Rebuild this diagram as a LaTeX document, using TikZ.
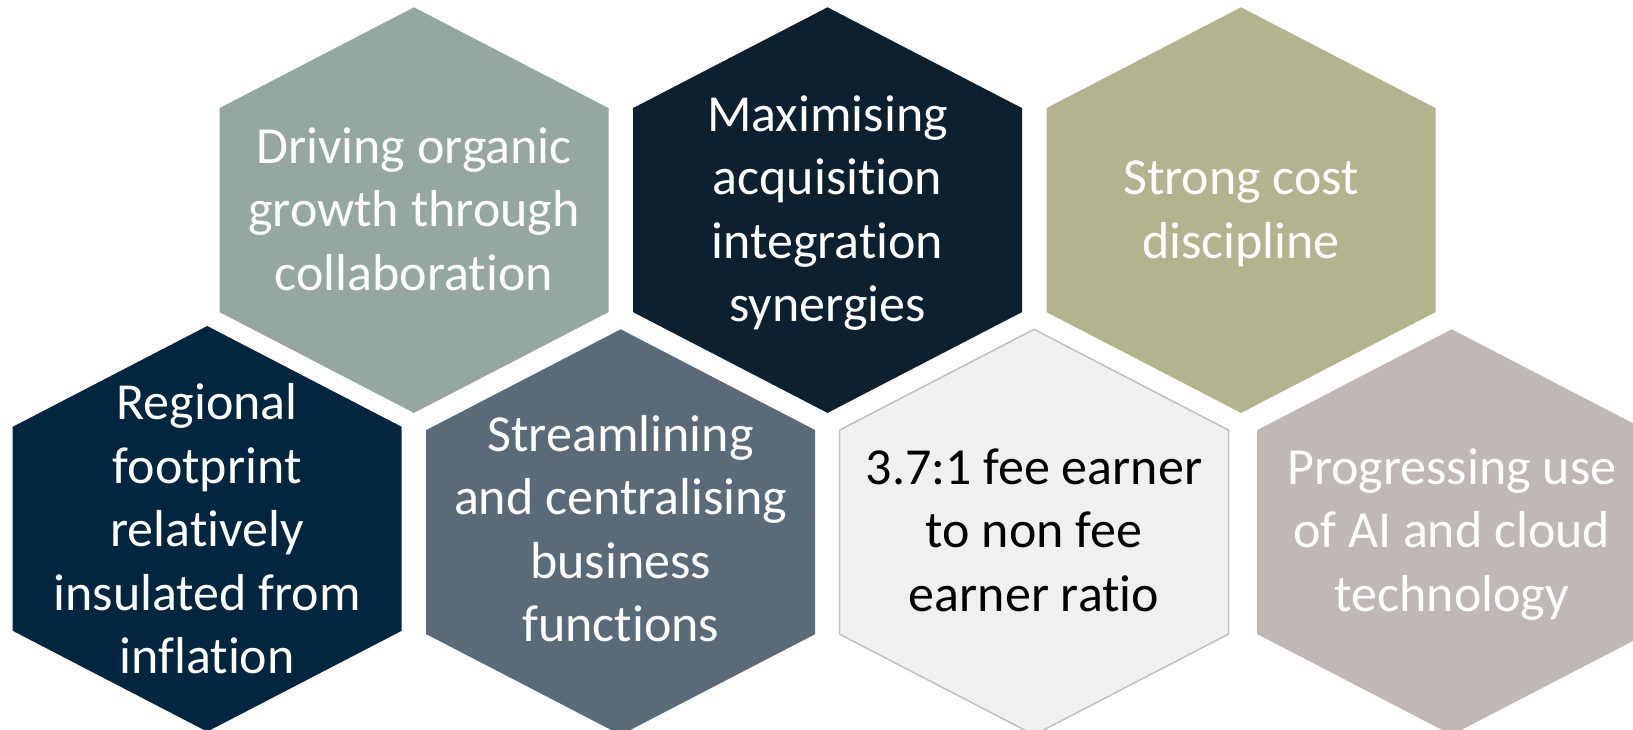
\documentclass[tikz,border=0pt]{standalone}
\usepackage{fontspec}
\setmainfont{Carlito}[Ligatures=NoCommon]

\definecolor{sage}{HTML}{95A7A0}
\definecolor{inkteal}{HTML}{0C2030}
\definecolor{olive}{HTML}{B3B48E}
\definecolor{navy}{HTML}{022640}
\definecolor{slate}{HTML}{5B6A78}
\definecolor{mist}{HTML}{F0F0F2}
\definecolor{mistline}{HTML}{C0C0C0}
\definecolor{taupe}{HTML}{C0B8B5}

% hexagon with pointed top: #1 = path options, (#2,#3) = top vertex
\newcommand\hexcell[3]{%
  \path[#1] (#2,#3) -- ++(194.5,100.8) -- ++(0,204) -- ++(-194.5,100.8)
    -- ++(-194.5,-100.8) -- ++(0,-204) -- cycle;}

\begin{document}
\begin{tikzpicture}[x=1pt,y=-1pt,
  hexlabel/.style={align=center, inner sep=0pt, text=white,
    font=\fontsize{52}{63.5}\selectfont},
]
\useasboundingbox (0,0) rectangle (1633,729);
\clip (0,0) rectangle (1633,729);

% upper row
\hexcell{fill=sage}{414}{7.3}
\hexcell{fill=inkteal}{827.5}{7.3}
\hexcell{fill=olive}{1241}{7.3}

% lower row
\hexcell{fill=navy}{207.2}{326}
\hexcell{fill=slate}{620.7}{329.3}
\hexcell{fill=mist, draw=mistline, line width=1.5pt}{1034}{329.3}
\hexcell{fill=taupe}{1451.7}{329.3}

% labels
\node[hexlabel] (organic) at (414,213.8)
  {\strut Driving organic\strut\\\strut growth through\strut\\\strut collaboration\strut};
\node[hexlabel] (acquisition) at (827.5,213.8)
  {\strut Maximising\strut\\\strut acquisition\strut\\\strut integration\strut\\\strut synergies\strut};
\node[hexlabel] (cost) at (1241,213.8)
  {\strut Strong cost\strut\\\strut discipline\strut};

\node[hexlabel] (regional) at (207.2,534)
  {\strut Regional\strut\\\strut footprint\strut\\\strut relatively\strut\\\strut insulated from\strut\\\strut inflation\strut};
\node[hexlabel] (streamline) at (620.7,533.8)
  {\strut Streamlining\strut\\\strut and centralising\strut\\\strut business\strut\\\strut functions\strut};
\node[hexlabel, text=black] (ratio) at (1034,535)
  {\strut 3.7:1 fee earner\strut\\\strut to non fee\strut\\\strut earner ratio\strut};
\node[hexlabel] (tech) at (1451.7,535)
  {\strut Progressing use\strut\\\strut of AI and cloud\strut\\\strut technology\strut};
\end{tikzpicture}
\end{document}
